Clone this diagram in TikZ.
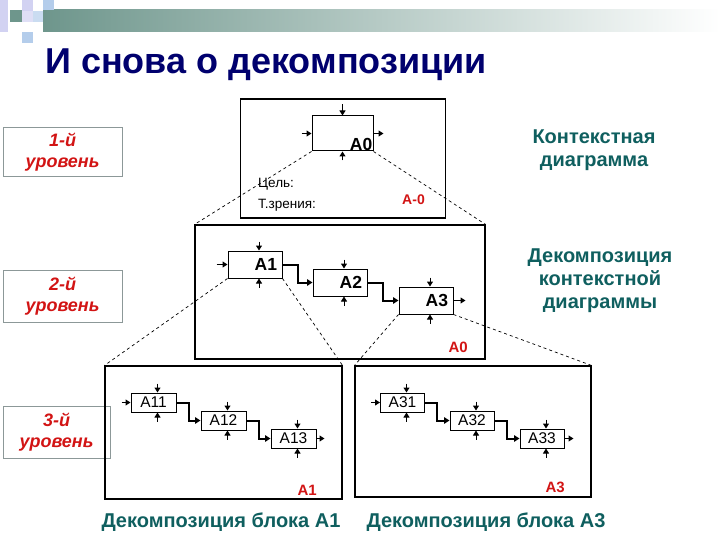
\documentclass[tikz,border=0pt]{standalone}
\usepackage{fontspec}
\setmainfont{Liberation Sans}
\usetikzlibrary{arrows.meta, calc}
\definecolor{navyblue}{RGB}{0,0,110}
\definecolor{darkteal}{RGB}{15,95,95}
\definecolor{lvlred}{RGB}{210,20,20}
\definecolor{lvlgray}{RGB}{140,152,152}
\definecolor{barteal}{RGB}{110,150,140}
\definecolor{tilelav}{RGB}{210,210,242}
\definecolor{tileblue}{RGB}{180,205,235}
\tikzset{
  frame/.style={draw, line width=1.1pt, inner sep=0pt},
  blockctx/.style={draw, line width=1pt, minimum width=61pt, minimum height=35pt, inner sep=0pt},
  blockmid/.style={draw, line width=1pt, minimum height=27pt, text width=44pt,
    inner xsep=5pt, inner ysep=0pt, align=right, font=\fontsize{17.5}{17.5}\selectfont\bfseries},
  blocklow/.style={draw, line width=1pt, minimum width=45pt, minimum height=19pt,
    inner sep=0pt, font=\fontsize{15.5}{15.5}\selectfont},
  stub/.style={line width=1pt, -{Triangle[length=5pt,width=6pt]}},
  flow/.style={line width=2pt, -{Triangle[length=5.5pt,width=6.5pt]}},
  zoomline/.style={line width=0.7pt, dash pattern=on 3pt off 3pt},
  level/.style={draw=lvlgray, line width=1pt, inner sep=0pt, align=center, text=lvlred,
    font=\fontsize{18}{21}\selectfont\bfseries\itshape},
  redtag/.style={text=lvlred, inner sep=0pt, anchor=base east, font=\fontsize{15}{15}\selectfont\bfseries},
  note/.style={text=darkteal, align=center, inner sep=0pt, font=\fontsize{20}{23}\selectfont\bfseries},
  plain/.style={anchor=base west, inner sep=0pt, font=\fontsize{13.5}{13.5}\selectfont}
}
\begin{document}
\begin{tikzpicture}[x=1pt, y=-1pt]
  \useasboundingbox (0,0) rectangle (720,540);

  % Slide decoration
  \shade[left color=barteal, right color=white] (43,10) rectangle (720,32);
  \fill[tilelav] (0,0) rectangle (8,32);
  \fill[tilelav] (22,0) rectangle (33,11);
  \fill[tileblue] (43,0) rectangle (54,10);
  \fill[barteal] (10,10) rectangle (22,22);
  \fill[tilelav!70] (22,11) rectangle (33,22);
  \fill[tileblue!70] (33,11) rectangle (43,22);
  \fill[tileblue] (22,32) rectangle (33,43);

  % Title
  \node[anchor=base west, inner sep=0pt, text=navyblue, font=\fontsize{36}{36}\selectfont\bfseries]
    (title) at (45,74) {И снова о декомпозиции};

  % Levels
  \node[level, minimum width=119pt, minimum height=49pt] (lvl1) at (62.5,152.5) {1-й\\уровень};
  \node[level, minimum width=119pt, minimum height=52pt] (lvl2) at (62.5,296) {2-й\\уровень};
  \node[level, minimum width=107pt, minimum height=52pt] (lvl3) at (56.5,432) {3-й\\уровень};

  % Frames
  \node[frame, minimum width=205pt, minimum height=119pt] (ctx) at (343.2,158.5) {};
  \node[frame, minimum width=290pt, minimum height=134pt] (dec) at (340,292) {};
  \node[frame, minimum width=237pt, minimum height=133pt] (decA1) at (223.5,432.5) {};
  \node[frame, minimum width=236pt, minimum height=131pt] (decA3) at (473,431.5) {};

  % Context diagram
  \node[blockctx] (A0) at (342.5,133.5) {};
  \node[anchor=base east, inner sep=0pt, font=\fontsize{17.5}{17.5}\selectfont\bfseries]
    (A0tag) at ([xshift=-1pt, yshift=1pt]A0.south east) {A0};
  \node[plain] (goal) at (258,188) {Цель:};
  \node[plain] (view) at (258,208) {Т.зрения:};
  \node[redtag, font=\fontsize{14}{14}\selectfont\bfseries] (ctxtag) at (425,205) {A-0};

  % Level 2
  \node[blockmid] (A1) at (255,264.5) {A1};
  \node[blockmid] (A2) at (340,282.5) {A2};
  \node[blockmid] (A3) at (426,300.5) {A3};
  \node[redtag] (dectag) at (468,352) {A0};

  % Level 3
  \node[blocklow] (A11) at (153.5,402.5) {A11};
  \node[blocklow] (A12) at (223.5,420.5) {A12};
  \node[blocklow] (A13) at (293.5,438.5) {A13};
  \node[blocklow, minimum width=44pt] (A31) at (402.5,402.5) {A31};
  \node[blocklow, minimum width=44pt] (A32) at (472,420.5) {A32};
  \node[blocklow, minimum width=44pt] (A33) at (542,438.5) {A33};
  \node[redtag] (A1tag) at (317,495) {A1};
  \node[redtag] (A3tag) at (565,492) {A3};

  % Stubs
  \draw[stub] ([yshift=11pt]A0.north) -- (A0.north);
  \draw[stub] ([yshift=-9pt]A0.south) -- (A0.south);
  \draw[stub] ([xshift=-10pt]A0.west) -- (A0.west);
  \draw[stub] (A0.east) -- ([xshift=10pt]A0.east);
  \foreach \b in {A1,A2,A3,A11,A12,A13,A31,A32,A33}{
    \draw[stub] ([xshift=4pt, yshift=9pt]\b.north) -- ([xshift=4pt]\b.north);
    \draw[stub] ([xshift=4pt, yshift=-9pt]\b.south) -- ([xshift=4pt]\b.south);
  }
  \draw[stub] ([xshift=-11pt]A1.west) -- (A1.west);
  \draw[stub] (A3.east) -- ([xshift=12pt]A3.east);
  \draw[stub] ([xshift=-9pt]A11.west) -- (A11.west);
  \draw[stub] (A13.east) -- ([xshift=8pt]A13.east);
  \draw[stub] ([xshift=-9pt]A31.west) -- (A31.west);
  \draw[stub] (A33.east) -- ([xshift=9pt]A33.east);

  % Flows
  \foreach \p/\q in {A1/A2, A2/A3, A11/A12, A12/A13, A31/A32, A32/A33}{
    \draw[flow] (\p.east) -| ($(\p.east)!.5!(\q.west)$) |- (\q.west);
  }

  % Zoom lines
  \draw[zoomline] (A0.south west) -- (dec.north west);
  \draw[zoomline] (A0.south east) -- (dec.north east);
  \draw[zoomline] (A1.south west) -- (decA1.north west);
  \draw[zoomline] (A1.south east) -- (decA1.north east);
  \draw[zoomline] (A3.south west) -- (decA3.north west);
  \draw[zoomline] (A3.south east) -- (decA3.north east);

  % Notes
  \node[note] (ctxnote) at (594,150) {Контекстная\\диаграмма};
  \node[note] (decnote) at (600,281) {Декомпозиция\\контекстной\\диаграммы};
  \node[note, anchor=base] (capA1) at (221,527) {Декомпозиция блока A1};
  \node[note, anchor=base] (capA3) at (486,527) {Декомпозиция блока A3};
\end{tikzpicture}
\end{document}
